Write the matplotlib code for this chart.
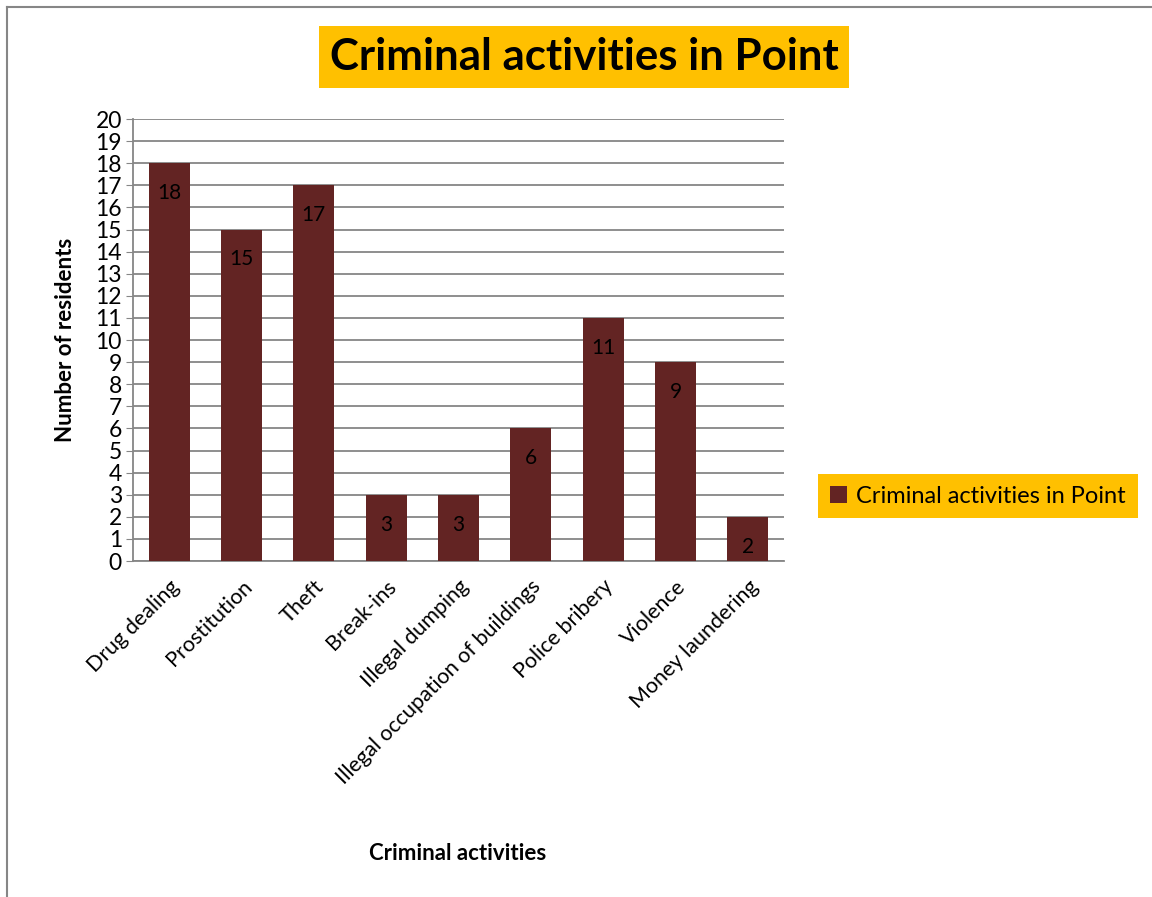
import matplotlib.pyplot as plt
from matplotlib.lines import Line2D
from matplotlib.patches import Patch

categories = ["Drug dealing", "Prostitution", "Theft", "Break-ins", "Illegal dumping",
              "Illegal occupation of buildings", "Police bribery", "Violence",
              "Money laundering"]
residents = [18, 15, 17, 3, 3, 6, 11, 9, 2]
series_name = "Criminal activities in Point"

plt.rcParams['font.family'] = ['Lato', 'DejaVu Sans']
bar_color = '#632423'
grid_color = '#868686'
yellow = '#FFC000'

fig = plt.figure(figsize=(11.52, 8.97), dpi=100)
ax = fig.add_axes([133/1152, 1 - 561/897, (784-133)/1152, (561-119)/897])

x = range(len(categories))
bars = ax.bar(x, residents, width=0.57, color=bar_color, zorder=3)
for b, v in zip(bars, residents):
    ax.text(b.get_x() + b.get_width()/2, v - 1.35, str(v), ha='center', va='center',
            fontsize=15, color='black', zorder=4)

ax.set_xlim(-0.5, len(categories) - 0.5)
ax.set_ylim(0, 20)
ax.set_yticks(range(0, 21))
ax.tick_params(axis='y', labelsize=16.5, length=5, color=grid_color, pad=3)
ax.tick_params(axis='x', length=0, labelsize=15.5, pad=11)
ax.set_xticks(list(x))
ax.set_xticklabels(categories, rotation=45, ha='right', rotation_mode='anchor')
ax.grid(axis='y', color=grid_color, linewidth=1.3, zorder=0)
for s in ['top', 'right']:
    ax.spines[s].set_visible(False)
ax.spines['left'].set_color(grid_color)
ax.spines['bottom'].set_color(grid_color)
ax.spines['left'].set_linewidth(1.3)
ax.spines['bottom'].set_linewidth(1.3)

ax.set_ylabel("Number of residents", fontsize=16, fontweight='bold', labelpad=14)
fig.text(458/1152, 1 - 853/897, "Criminal activities", ha='center', va='center',
         fontsize=16, fontweight='bold')

fig.text(584/1152, 1 - 57/897, series_name, ha='center', va='center',
         fontsize=31.5, fontweight='bold',
         bbox=dict(facecolor=yellow, edgecolor='none', pad=8))

leg = fig.legend(handles=[Patch(facecolor=bar_color, label=series_name)],
                 loc='center', bbox_to_anchor=(978/1152, 1 - 496/897),
                 fontsize=17, frameon=True, handlelength=0.7, handleheight=0.7,
                 handletextpad=0.4, borderpad=0.5)
leg.get_frame().set_facecolor(yellow)
leg.get_frame().set_edgecolor('none')
leg.get_frame().set_boxstyle('square', pad=0)
leg.get_frame().set_alpha(1)

# outer chart border (left and top)
fig.add_artist(Line2D([7/1152, 7/1152], [0, 1 - 7/897], color=grid_color, lw=1.5))
fig.add_artist(Line2D([7/1152, 1], [1 - 7/897, 1 - 7/897], color=grid_color, lw=1.5))

fig.savefig('out.png', dpi=100)
